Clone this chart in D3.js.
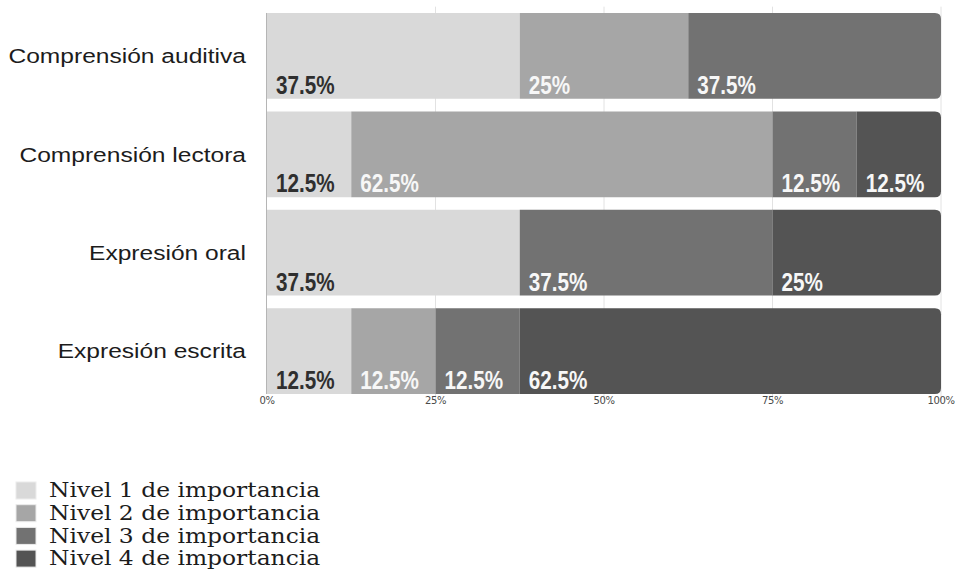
<!DOCTYPE html>
<html>
<head>
<meta charset="utf-8">
<script src="https://cdn.jsdelivr.net/npm/d3@7"></script>
<style>
  html, body { margin: 0; padding: 0; background: #fff; }
  svg { display: block; }
</style>
</head>
<body>
<svg id="chart" width="955" height="583"></svg>
<script>
// Skills evaluated (rows, top to bottom)
const categories = ["Comprensión auditiva", "Comprensión lectora", "Expresión oral", "Expresión escrita"];
// Importance levels (stack order, left to right)
const levels = ["Nivel 1 de importancia", "Nivel 2 de importancia", "Nivel 3 de importancia", "Nivel 4 de importancia"];
// Share of answers (%) per level, one value per skill
const nivel1 = [37.5, 12.5, 37.5, 12.5];
const nivel2 = [25, 62.5, 0, 12.5];
const nivel3 = [37.5, 12.5, 37.5, 12.5];
const nivel4 = [0, 12.5, 25, 62.5];
const tickValues = [0, 25, 50, 75, 100];
const tickLabels = ["0%", "25%", "50%", "75%", "100%"];

const colors = ["#d9d9d9", "#a6a6a6", "#727272", "#545454"];
const labelColors = ["#2f2f2f", "#f7f7f7", "#f7f7f7", "#f7f7f7"];

const table = categories.map((c, i) => ({
  cat: c, l0: nivel1[i], l1: nivel2[i], l2: nivel3[i], l3: nivel4[i]
}));
const keys = ["l0", "l1", "l2", "l3"];
const series = d3.stack().keys(keys)(table);

const svg = d3.select("#chart");
const x = d3.scaleLinear().domain([0, 100]).range([267, 941]);
const y = d3.scaleBand().domain(categories).range([6.67, 400.33])
  .paddingInner(0.1284).paddingOuter(0.0642);

// gridlines
svg.append("g").selectAll("line").data(tickValues.slice(1)).join("line")
  .attr("x1", d => x(d)).attr("x2", d => x(d))
  .attr("y1", y.range()[0]).attr("y2", y.range()[1])
  .attr("stroke", "#e2e2e2").attr("stroke-width", 1);
svg.append("line")
  .attr("x1", x(0) - 0.5).attr("x2", x(0) - 0.5)
  .attr("y1", y(categories[0])).attr("y2", y(categories[3]) + y.bandwidth())
  .attr("stroke", "#b5b5b5").attr("stroke-width", 1);

// index of last non-zero segment per row (gets rounded right corners)
const lastIdx = table.map(d => { let k = -1; keys.forEach((key, j) => { if (d[key] > 0) k = j; }); return k; });

function segPath(x0, x1, y0, h, rounded) {
  const r = rounded ? 6 : 0;
  return `M${x0},${y0}H${x1 - r}` +
    (r ? `Q${x1},${y0} ${x1},${y0 + r}` : "") +
    `V${y0 + h - r}` +
    (r ? `Q${x1},${y0 + h} ${x1 - r},${y0 + h}` : "") +
    `H${x0}Z`;
}

series.forEach((s, j) => {
  const g = svg.append("g");
  g.selectAll("path").data(s.filter(d => d[1] > d[0])).join("path")
    .attr("d", d => {
      const row = categories.indexOf(d.data.cat);
      return segPath(x(d[0]), x(d[1]), y(d.data.cat), y.bandwidth(), lastIdx[row] === j);
    })
    .attr("fill", colors[j]);
});

// value labels
series.forEach((s, j) => {
  svg.append("g").selectAll("text").data(s.filter(d => d[1] > d[0])).join("text")
    .attr("transform", d => `translate(${x(d[0]) + 9},${y(d.data.cat) + y.bandwidth() - 5}) scale(0.78,1)`)
    .attr("font-family", "'Liberation Sans', Arial, sans-serif")
    .attr("font-weight", "bold")
    .attr("font-size", 26.5)
    .attr("fill", labelColors[j])
    .text(d => d.data[keys[j]] + "%");
});

// category labels
svg.append("g").selectAll("text").data(categories).join("text")
  .attr("transform", d => `translate(246,${y(d) + y.bandwidth() / 2}) scale(1.17,1)`)
  .attr("text-anchor", "end")
  .attr("dominant-baseline", "central")
  .attr("font-family", "'Liberation Sans', Arial, sans-serif")
  .attr("font-size", 21)
  .attr("fill", "#1c1c1c")
  .text(d => d);

// x axis tick labels
svg.append("g").selectAll("text").data(tickValues).join("text")
  .attr("x", d => x(d)).attr("y", 404)
  .attr("text-anchor", "middle")
  .attr("font-family", "'DejaVu Sans', Verdana, sans-serif")
  .attr("font-size", 10)
  .attr("letter-spacing", -0.4)
  .attr("fill", "#4a4a4a")
  .text((d, i) => tickLabels[i]);

// legend
const legend = svg.append("g").selectAll("g").data(levels).join("g")
  .attr("transform", (d, i) => `translate(16,${482 + i * 22.7})`);
legend.append("rect")
  .attr("width", 20).attr("height", 17)
  .attr("fill", (d, i) => colors[i])
  .attr("stroke", "#ececec").attr("stroke-width", 1);
legend.append("text")
  .attr("transform", "translate(33,8.5) scale(1.2,1)")
  .attr("dominant-baseline", "central")
  .attr("font-family", "'DejaVu Serif', serif")
  .attr("font-size", 19.5)
  .attr("fill", "#1c1c1c")
  .text(d => d);
</script>
</body>
</html>
